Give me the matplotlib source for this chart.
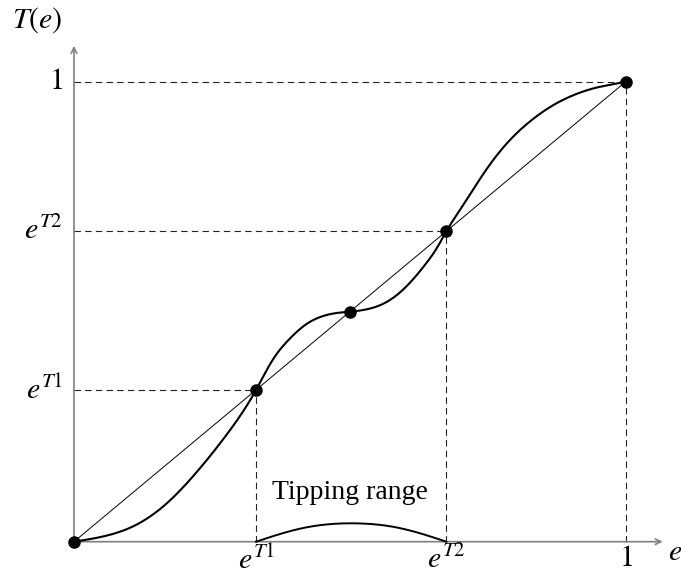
import numpy as np
import matplotlib.pyplot as plt

plt.rcParams['mathtext.fontset'] = 'stix'
plt.rcParams['font.family'] = ['Liberation Serif', 'DejaVu Serif']

# S-shaped transition curve T(e)
e_curve = [0.0, 0.055, 0.11, 0.165, 0.22, 0.275, 0.33,
           0.36, 0.39, 0.42, 0.45, 0.475, 0.5,
           0.53, 0.565, 0.6, 0.635, 0.66, 0.675,
           0.70, 0.73, 0.76, 0.79, 0.83, 0.87, 0.91, 0.95, 0.98, 1.0]
T_curve = [0.0, 0.012, 0.035, 0.080, 0.148, 0.230, 0.33,
           0.395, 0.44, 0.472, 0.49, 0.497, 0.5,
           0.505, 0.52, 0.552, 0.60, 0.643, 0.675,
           0.722, 0.778, 0.83, 0.873, 0.917, 0.95, 0.973, 0.988, 0.995, 1.0]

# fixed points (dots)
e_fixed = [0.0, 0.33, 0.5, 0.675, 1.0]
T_fixed = [0.0, 0.33, 0.5, 0.675, 1.0]

# fixed points that get dashed guide lines + tick labels
e_marked = [0.33, 0.675, 1.0]
tick_labels = [r'$e^{T1}$', r'$e^{T2}$', r'$1$']

# small arc marking the tipping range on the e axis
e_arc = [0.33, 0.4163, 0.5025, 0.5888, 0.675]
h_arc = [0.0, 0.03, 0.04, 0.03, 0.0]


def natural_spline(xs, ys, n=600):
    # natural cubic spline, only used to draw a smooth line through the points
    x = np.asarray(xs, float)
    y = np.asarray(ys, float)
    h = np.diff(x)
    k = len(x)
    A = np.zeros((k, k))
    b = np.zeros(k)
    A[0, 0] = A[-1, -1] = 1
    for i in range(1, k - 1):
        A[i, i - 1] = h[i - 1]
        A[i, i] = 2 * (h[i - 1] + h[i])
        A[i, i + 1] = h[i]
        b[i] = 6 * ((y[i + 1] - y[i]) / h[i] - (y[i] - y[i - 1]) / h[i - 1])
    M = np.linalg.solve(A, b)
    xx = np.linspace(x[0], x[-1], n)
    j = np.clip(np.searchsorted(x, xx) - 1, 0, k - 2)
    dx1 = x[j + 1] - xx
    dx0 = xx - x[j]
    hj = h[j]
    yy = (M[j] * dx1**3 + M[j + 1] * dx0**3) / (6 * hj) \
        + (y[j] / hj - M[j] * hj / 6) * dx1 + (y[j + 1] / hj - M[j + 1] * hj / 6) * dx0
    return xx, yy


fig = plt.figure(figsize=(6.81, 5.75), dpi=100)
ax = fig.add_axes([0, 0, 1, 1])
ax.set_xlim(-0.1341, 1.1002)
ax.set_ylim(-0.0724, 1.1776)
ax.axis('off')

axis_col = '#808080'
ax.annotate('', xy=(1.067, 0), xytext=(0, 0),
            arrowprops=dict(arrowstyle='->', color=axis_col, lw=1.2, shrinkA=0, shrinkB=0))
ax.annotate('', xy=(0, 1.078), xytext=(0, 0),
            arrowprops=dict(arrowstyle='->', color=axis_col, lw=1.2, shrinkA=0, shrinkB=0))

fs = 20
fs_math = 21.5
for v, lab in zip(e_marked, tick_labels):
    ax.plot([0, v], [v, v], color='#222222', lw=0.8, dashes=(5.8, 3.8), zorder=2)
    ax.plot([v, v], [0, v], color='#222222', lw=0.8, dashes=(5.8, 3.8), zorder=2)
    ax.text(v, -0.009, lab, ha='center', va='top', fontsize=fs_math)
    ax.text(-0.02, v, lab, ha='right', va='center', fontsize=fs_math)

ax.plot([0, 1], [0, 1], color='black', lw=0.7, zorder=3)
cx, cy = natural_spline(e_curve, T_curve)
ax.plot(cx, cy, color='black', lw=1.5, zorder=4, solid_capstyle='round')
ax.plot(e_fixed, T_fixed, 'o', color='black', ms=8, zorder=5)
arc_x, arc_y = natural_spline(e_arc, h_arc, n=200)
ax.plot(arc_x, arc_y, color='black', lw=1.4, zorder=4)

ax.text(0.5, 0.106, 'Tipping range', ha='center', va='center', fontsize=fs)
ax.text(-0.067, 1.134, r'$T(e)$', ha='center', va='center', fontsize=fs_math)
ax.text(1.0895, -0.025, r'$e$', ha='center', va='center', fontsize=fs_math)

fig.savefig('out.png', dpi=100)
